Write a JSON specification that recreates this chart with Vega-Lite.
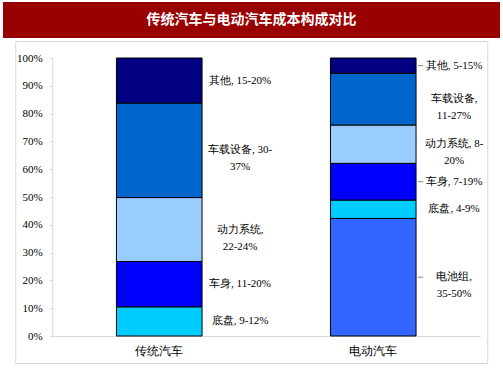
{
  "$schema": "https://vega.github.io/schema/vega-lite/v6.json",
  "padding": {"left": 3, "top": 2, "right": 3, "bottom": 2},
  "background": "white",
  "spacing": 2,
  "center": true,
  "config": {"view": {"stroke": null}, "font": "Liberation Serif", "axisY": {"labelOverlap": false}},
  "datasets": {
    "title": [{"t": "传统汽车与电动汽车成本构成对比"}],
    "costs": [
      {"car": "传统汽车", "part": "底盘", "seq": 1, "value": 0.105, "label": "底盘, 9-12%"},
      {"car": "传统汽车", "part": "车身", "seq": 2, "value": 0.163, "label": "车身, 11-20%"},
      {"car": "传统汽车", "part": "动力系统", "seq": 3, "value": 0.23, "label": "动力系统,\n22-24%"},
      {"car": "传统汽车", "part": "车载设备", "seq": 4, "value": 0.34, "label": "车载设备, 30-\n37%"},
      {"car": "传统汽车", "part": "其他", "seq": 5, "value": 0.162, "label": "其他, 15-20%"},
      {"car": "电动汽车", "part": "电池组", "seq": 0, "value": 0.423, "label": "电池组,\n35-50%"},
      {"car": "电动汽车", "part": "底盘", "seq": 1, "value": 0.066, "label": "底盘, 4-9%"},
      {"car": "电动汽车", "part": "车身", "seq": 2, "value": 0.132, "label": "车身, 7-19%"},
      {"car": "电动汽车", "part": "动力系统", "seq": 3, "value": 0.138, "label": "动力系统, 8-\n20%"},
      {"car": "电动汽车", "part": "车载设备", "seq": 4, "value": 0.186, "label": "车载设备,\n11-27%"},
      {"car": "电动汽车", "part": "其他", "seq": 5, "value": 0.055, "label": "其他, 5-15%"}
    ]
  },
  "vconcat": [
    {
      "width": 497,
      "height": 36,
      "view": {"fill": "#990000", "stroke": null},
      "data": {"name": "title"},
      "mark": {"type": "text", "color": "white", "fontSize": 14, "fontWeight": "bold", "font": "Noto Sans CJK SC", "baseline": "middle"},
      "encoding": {"text": {"field": "t", "type": "nominal"}}
    },
    {
      "width": 472,
      "height": 322,
      "view": {"stroke": "#d9d9d9", "fill": "white"},
      "data": {"name": "costs"},
      "transform": [
        {"stack": "value", "groupby": ["car"], "sort": [{"field": "seq"}], "as": ["v0", "v1"]},
        {"calculate": "(datum.v0 + datum.v1) / 2", "as": "mid"}
      ],
      "encoding": {
        "x": {
          "field": "car",
          "type": "nominal",
          "sort": ["传统汽车", "电动汽车"],
          "scale": {"range": [37, 465], "paddingInner": 0.6, "paddingOuter": 0.3},
          "axis": {"orient": "bottom", "offset": -27, "domainColor": "#d9d9d9", "ticks": false, "labelAngle": 0, "labelFontSize": 12, "labelPadding": 9, "labelColor": "#000000", "title": null}
        }
      },
      "layer": [
        {
          "mark": {"type": "bar", "stroke": "#000000", "strokeWidth": 1},
          "encoding": {
            "y": {
              "field": "v0",
              "type": "quantitative",
              "scale": {"domain": [0, 1], "range": [295, 17], "nice": false},
              "axis": {"offset": -37, "values": [0, 0.1, 0.2, 0.3, 0.4, 0.5, 0.6, 0.7, 0.8, 0.9, 1], "format": ".0%", "labelOverlap": false, "labelFlush": false, "domainColor": "#d9d9d9", "tickColor": "#d9d9d9", "tickSize": 3, "labelPadding": 7, "grid": false, "title": null, "labelFontSize": 11, "labelColor": "#000000"}
            },
            "y2": {"field": "v1"},
            "color": {
              "field": "part",
              "type": "nominal",
              "scale": {"domain": ["电池组", "底盘", "车身", "动力系统", "车载设备", "其他"], "range": ["#3366ff", "#00ccff", "#0000ff", "#99ccff", "#0066cc", "#000080"]},
              "legend": null
            }
          }
        },
        {
          "transform": [{"filter": "datum.car === '电动汽车' && indexof(['其他', '车身', '电池组'], datum.part) >= 0"}],
          "mark": {"type": "rule", "color": "#808080", "strokeWidth": 1, "xOffset": 2, "x2Offset": 7},
          "encoding": {
            "x": {"field": "car", "type": "nominal", "sort": ["传统汽车", "电动汽车"], "bandPosition": 1},
            "x2": {"field": "car", "bandPosition": 1},
            "y": {
              "field": "mid",
              "type": "quantitative",
              "axis": {"offset": -37, "values": [0, 0.1, 0.2, 0.3, 0.4, 0.5, 0.6, 0.7, 0.8, 0.9, 1], "format": ".0%", "labelOverlap": false, "labelFlush": false, "domainColor": "#d9d9d9", "tickColor": "#d9d9d9", "tickSize": 3, "labelPadding": 7, "grid": false, "title": null, "labelFontSize": 11, "labelColor": "#000000"}
            }
          }
        },
        {
          "mark": {"type": "text", "align": "center", "baseline": "middle", "dx": 38, "fontSize": 11, "lineBreak": "\n", "lineHeight": 17, "color": "#000000"},
          "encoding": {
            "x": {"field": "car", "type": "nominal", "sort": ["传统汽车", "电动汽车"], "bandPosition": 1},
            "y": {
              "field": "mid",
              "type": "quantitative",
              "axis": {"offset": -37, "values": [0, 0.1, 0.2, 0.3, 0.4, 0.5, 0.6, 0.7, 0.8, 0.9, 1], "format": ".0%", "labelOverlap": false, "labelFlush": false, "domainColor": "#d9d9d9", "tickColor": "#d9d9d9", "tickSize": 3, "labelPadding": 7, "grid": false, "title": null, "labelFontSize": 11, "labelColor": "#000000"}
            },
            "text": {"field": "label", "type": "nominal"}
          }
        }
      ]
    }
  ]
}
